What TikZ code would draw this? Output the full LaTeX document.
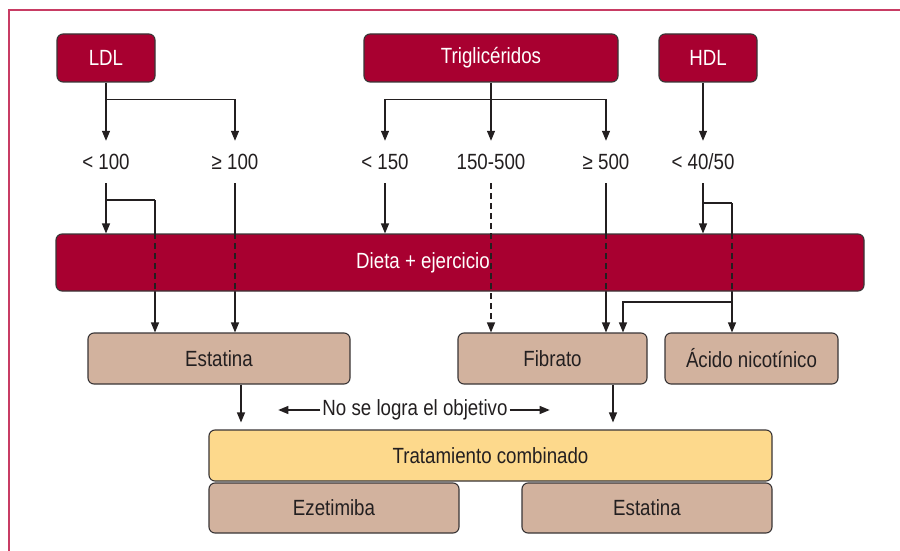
\documentclass[tikz,border=0pt]{standalone}
\usepackage{fontspec}
\setmainfont[FakeStretch=0.85]{Liberation Sans}
\usetikzlibrary{arrows.meta,backgrounds,calc}
\pgfdeclarelayer{conns}
\pgfsetlayers{background,conns,main}
\definecolor{crim}{RGB}{168,0,48}
\definecolor{tanfill}{RGB}{210,178,158}
\definecolor{yelfill}{RGB}{253,217,140}
\definecolor{framecol}{RGB}{200,60,100}
\definecolor{ink}{RGB}{35,31,32}
\begin{document}
\begin{tikzpicture}[x=1pt,y=-1pt,
  box/.style={draw=ink!90, line width=1.1pt, rounded corners=6pt, inner sep=0pt, font=\fontsize{22}{25}\selectfont},
  redbox/.style={box, fill=crim, text=white},
  tanbox/.style={box, fill=tanfill, text=ink},
  yelbox/.style={box, fill=yelfill, text=ink},
  lbl/.style={font=\fontsize{22}{25}\selectfont, text=ink, inner sep=0pt, minimum height=42pt},
  conn/.style={draw=ink, line width=1.1pt},
  arr/.style={conn, -{Triangle[length=10pt,width=8pt]}},
  dsh/.style={draw=ink, line width=1.1pt, dash pattern=on 6pt off 4pt},
]
\useasboundingbox (0,0) rectangle (900,551);
\begin{pgfonlayer}{background}
\fill[white] (0,0) rectangle (900,551);
\end{pgfonlayer}
\draw[framecol, line width=2pt] (9,551) -- (9,10) -- (900,10);

% top boxes
\node[redbox, minimum width=98pt, minimum height=48pt] (ldl) at (106,58) {LDL};
\node[redbox, minimum width=254pt, minimum height=48pt] (tg) at (491,58) {Triglicéridos};
\node[redbox, minimum width=98pt, minimum height=48pt] (hdl) at (708,58) {HDL};

% labels
\node[lbl] (l1) at (106,162) {< 100};
\node[lbl] (l2) at (235,162) {≥ 100};
\node[lbl] (t1) at (385,162) {< 150};
\node[lbl] (t2) at (491,162) {150-500};
\node[lbl] (t3) at (606,162) {≥ 500};
\node[lbl] (h1) at (703,162) {< 40/50};

% middle
\node[redbox, minimum width=808pt, minimum height=57pt] (diet) at (460,262.5) {\hspace*{-74pt}Dieta + ejercicio};
\node[tanbox, minimum width=262pt, minimum height=51pt] (est) at (219,358.5) {Estatina};
\node[tanbox, minimum width=189pt, minimum height=51pt] (fib) at (552.5,358.5) {Fibrato};
\node[tanbox, minimum width=173pt, minimum height=51pt] (acid) at (751.5,358.5) {Ácido nicotínico};

% bottom
\node[lbl, minimum height=0pt] (nslo) at (415,410) {No se logra el objetivo};
\node[yelbox, minimum width=563pt, minimum height=51pt] (trat) at (490.5,455.5) {Tratamiento combinado};
\node[tanbox, minimum width=250pt, minimum height=50pt] (eze) at (334,508) {Ezetimiba};
\node[tanbox, minimum width=250pt, minimum height=50pt] (est2) at (647,508) {Estatina};

\coordinate (ldlb) at ($(ldl.south)+(0,17)$);
\coordinate (tgb) at ($(tg.south)+(0,17)$);
\coordinate (lb) at (155,200);
\coordinate (hb) at (732,203);
\coordinate (hturn) at (732,302);
\coordinate (fibin) at (623,302);

\begin{pgfonlayer}{conns}
% LDL
\draw[arr] (ldl.south) -- (l1.north);
\draw[arr] (ldlb) -| (l2.north);
% TG
\draw[arr] (tg.south) -- (t2.north);
\draw[arr] (tgb) -| (t1.north);
\draw[arr] (tgb) -| (t3.north);
% HDL
\draw[arr] (h1.north |- hdl.south) -- (h1.north);
% below labels
\draw[arr] (l1.south) -- (l1.south |- diet.north);
\draw[conn] (l1.south |- lb) -- (lb);
\draw[arr] (lb) -- (lb |- est.north);
\draw[arr] (l2.south) -- (l2.south |- est.north);
\draw[arr] (t1.south) -- (t1.south |- diet.north);
\draw[arr] (t3.south) -- (t3.south |- fib.north);
\draw[arr] (h1.south) -- (h1.south |- diet.north);
\draw[conn] (h1.south |- hb) -- (hb);
\draw[arr] (hb) -- (hb |- acid.north);
\draw[arr] (hturn) -- (fibin) -- (fibin |- fib.north);
\end{pgfonlayer}

% dashed overlays through diet box
\draw[dsh] (lb |- diet.north) -- (lb |- diet.south);
\draw[dsh] (l2.south |- diet.north) -- (l2.south |- diet.south);
\draw[dsh] (t3.south |- diet.north) -- (t3.south |- diet.south);
\draw[dsh] (hb |- diet.north) -- (hb |- diet.south);
\draw[dsh, -{Triangle[length=10pt,width=8pt]}] (t2.south) -- (t2.south |- fib.north);

% to combined treatment
\draw[arr, shorten >=7pt] ([xshift=22pt]est.south) -- ([xshift=22pt]est.south |- trat.north);
\draw[arr, shorten >=7pt] ([xshift=60.5pt]fib.south) -- ([xshift=60.5pt]fib.south |- trat.north);
\draw[arr] ([xshift=-2pt]nslo.west) -- ++(-42,0);
\draw[arr] ([xshift=2pt]nslo.east) -- ++(40,0);
\end{tikzpicture}
\end{document}
